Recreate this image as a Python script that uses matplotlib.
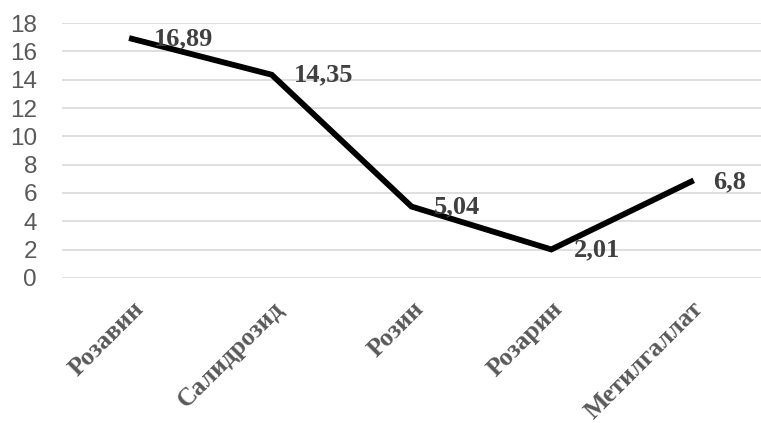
import matplotlib.pyplot as plt
from matplotlib.transforms import ScaledTranslation

categories = ["Розавин", "Салидрозид", "Розин", "Розарин", "Метилгаллат"]
values = [16.89, 14.35, 5.04, 2.01, 6.8]
value_labels = ["16,89", "14,35", "5,04", "2,01", "6,8"]
yticks = list(range(0, 20, 2))

fig = plt.figure(figsize=(7.61, 4.23), dpi=100)
ax = fig.add_axes([0.0815, 0.343, 0.9185, 0.6025])

x = list(range(len(categories)))
ax.plot(x, values, color="black", linewidth=4.2, solid_joinstyle="miter", zorder=3)

for xi, v, lab in zip(x, values, value_labels):
    ax.annotate(lab, (xi, v), xytext=(16, 0), textcoords="offset points",
                ha="left", va="center", fontsize=19, fontweight="bold",
                family="Liberation Serif", color="#404040", zorder=4)

ax.set_xlim(-0.5, len(categories) - 0.5)
ax.set_ylim(0, 18)
ax.set_yticks(yticks)
ax.set_yticklabels([str(t) for t in yticks], fontsize=17.5, color="#595959",
                   family="Liberation Sans")
ax.set_xticks(x)
ax.set_xticklabels(categories, rotation=45, ha="right", rotation_mode="anchor",
                   fontsize=18.5, fontweight="bold", family="Liberation Serif",
                   color="#595959")
shift = ScaledTranslation(-4 / 100, -3 / 100, fig.dpi_scale_trans)
for lbl in ax.get_xticklabels():
    lbl.set_transform(lbl.get_transform() + shift)
ax.tick_params(axis="both", length=0)
ax.tick_params(axis="y", pad=18)
ax.tick_params(axis="x", pad=14)
ax.grid(axis="y", color="#d9d9d9", linewidth=1.2)
ax.set_axisbelow(True)
for s in ax.spines.values():
    s.set_visible(False)

plt.savefig("out.png", dpi=100)
plt.close()
